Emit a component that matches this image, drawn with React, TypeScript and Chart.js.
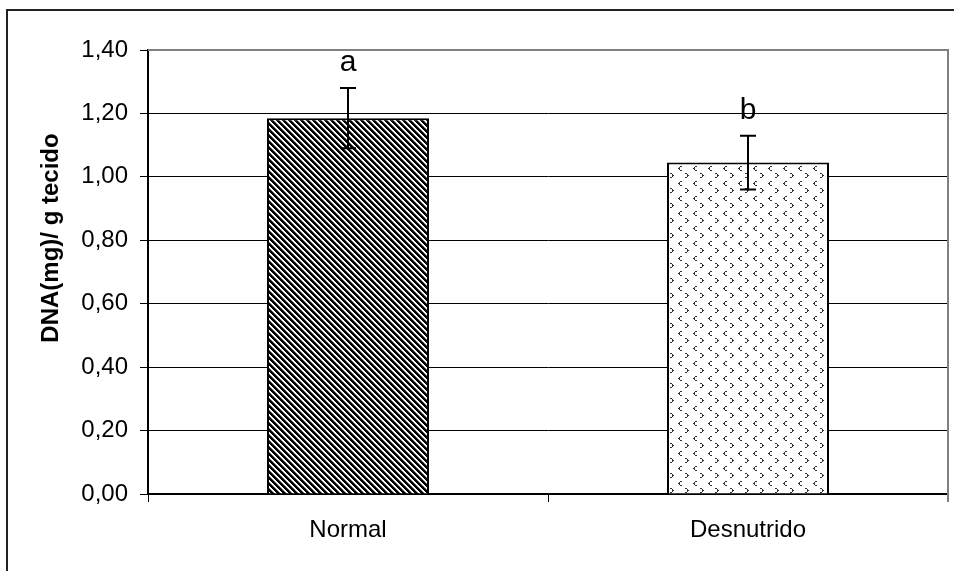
import React, { useEffect, useRef } from "react";
import { Chart, registerables } from "chart.js";

Chart.register(...registerables);

const categories = ["Normal", "Desnutrido"];
const means = [1.185, 1.045];
const errorHalf = [0.095, 0.085];
const letters = ["a", "b"];
const yMin = 0;
const yMax = 1.4;
const yStep = 0.2;
const yTitle = "DNA(mg)/ g tecido";

const FONT = "'Liberation Sans', Arial, sans-serif";

function makeStripePattern(): CanvasPattern | string {
  const c = document.createElement("canvas");
  const n = 12;
  c.width = n;
  c.height = n;
  const ctx = c.getContext("2d");
  if (!ctx) return "#555";
  const img = ctx.createImageData(n, n);
  for (let y = 0; y < n; y++) {
    for (let x = 0; x < n; x++) {
      const m = (((x - y) % 6) + 6) % 6;
      let v = 255;
      if (m === 0 || m === 1 || m === 2) v = 0;
      else if (m === 3) v = 120;
      const i = (y * n + x) * 4;
      img.data[i] = v;
      img.data[i + 1] = v;
      img.data[i + 2] = v;
      img.data[i + 3] = 255;
    }
  }
  ctx.putImageData(img, 0, 0);
  return ctx.createPattern(c, "repeat") || "#555";
}

function makeDotPattern(): CanvasPattern | string {
  const c = document.createElement("canvas");
  const w = 15;
  const h = 15;
  c.width = w;
  c.height = h;
  const ctx = c.getContext("2d");
  if (!ctx) return "#fff";
  ctx.fillStyle = "#fff";
  ctx.fillRect(0, 0, w, h);
  ctx.fillStyle = "#333";
  const lt = [
    [2, 0],
    [3, 0],
    [1, 1],
    [0, 2],
    [1, 2],
    [1, 3],
    [2, 4],
    [3, 4],
  ];
  const gt = [
    [0, 0],
    [1, 0],
    [2, 1],
    [2, 2],
    [3, 2],
    [2, 3],
    [0, 4],
    [1, 4],
  ];
  lt.forEach(([x, y]) => ctx.fillRect(3 + x, 1 + y, 1, 1));
  gt.forEach(([x, y]) => ctx.fillRect(10 + x, 8 + y, 1, 1));
  return ctx.createPattern(c, "repeat") || "#fff";
}

export default function App() {
  const ref = useRef<HTMLCanvasElement | null>(null);

  useEffect(() => {
    if (!ref.current) return;
    const stripe = makeStripePattern();
    const dots = makeDotPattern();

    const overlay = {
      id: "overlay",
      beforeDatasetsDraw(chart: any) {
        const { ctx, chartArea } = chart;
        ctx.save();
        ctx.strokeStyle = "#808080";
        ctx.lineWidth = 2;
        ctx.beginPath();
        ctx.moveTo(chartArea.left, chartArea.top);
        ctx.lineTo(chartArea.right, chartArea.top);
        ctx.lineTo(chartArea.right, chartArea.bottom + 8);
        ctx.stroke();
        ctx.restore();
      },
      afterDatasetsDraw(chart: any) {
        const { ctx } = chart;
        const y = chart.scales.y;
        const meta = chart.getDatasetMeta(0);
        ctx.save();
        ctx.strokeStyle = "#000";
        ctx.lineWidth = 2;
        meta.data.forEach((bar: any, i: number) => {
          const x = Math.round(bar.x);
          const hi = y.getPixelForValue(means[i] + errorHalf[i]);
          const lo = y.getPixelForValue(means[i] - errorHalf[i]);
          ctx.beginPath();
          ctx.moveTo(x, hi);
          ctx.lineTo(x, lo);
          ctx.moveTo(x - 8, hi);
          ctx.lineTo(x + 8, hi);
          ctx.moveTo(x - 8, lo);
          ctx.lineTo(x + 8, lo);
          ctx.stroke();
          ctx.fillStyle = "#000";
          ctx.font = `30px ${FONT}`;
          ctx.textAlign = "center";
          ctx.textBaseline = "middle";
          ctx.fillText(letters[i], x, hi - 25);
        });
        ctx.translate(51, 238);
        ctx.rotate(-Math.PI / 2);
        ctx.font = `bold 24px ${FONT}`;
        ctx.textAlign = "center";
        ctx.textBaseline = "middle";
        ctx.fillStyle = "#000";
        ctx.fillText(yTitle, 0, 0);
        ctx.restore();
      },
    };

    const chart = new Chart(ref.current, {
      type: "bar",
      data: {
        labels: categories,
        datasets: [
          {
            data: means,
            backgroundColor: [stripe, dots] as any,
            borderColor: "#000",
            borderWidth: 2,
            categoryPercentage: 1,
            barPercentage: 0.405,
          },
        ],
      },
      options: {
        animation: false,
        responsive: false,
        devicePixelRatio: 1,
        layout: { padding: { top: 50, right: 6, left: 0, bottom: 0 } },
        plugins: {
          legend: { display: false },
          tooltip: { enabled: false },
          title: { display: false },
        },
        scales: {
          x: {
            afterFit(scale: any) {
              scale.height = 77;
            },
            grid: {
              display: true,
              drawOnChartArea: false,
              drawTicks: true,
              tickLength: 8,
              offset: true,
              color: "#000",
              lineWidth: 1,
            },
            border: { color: "#000", width: 2 },
            ticks: {
              color: "#000",
              font: { family: FONT, size: 24 },
              padding: 14,
            },
          },
          y: {
            min: yMin,
            max: yMax,
            afterFit(scale: any) {
              scale.width = 148;
            },
            grid: {
              color: (c: any) =>
                c.tick && Math.abs(c.tick.value - yMax) < 1e-6 ? "#808080" : "#000",
              tickColor: "#000",
              tickLength: 8,
              lineWidth: 1,
            },
            border: { color: "#000", width: 2 },
            ticks: {
              stepSize: yStep,
              color: "#000",
              font: { family: FONT, size: 24 },
              padding: 12,
              callback: (v: any) => Number(v).toFixed(2).replace(".", ","),
            },
          },
        },
      },
      plugins: [overlay],
    });
    return () => chart.destroy();
  }, []);

  return (
    <div
      style={{
        position: "fixed",
        left: 0,
        top: 0,
        width: 954,
        height: 571,
        background: "#fff",
        overflow: "hidden",
      }}
    >
      <div
        style={{
          position: "absolute",
          left: 6,
          top: 9,
          width: 1000,
          height: 600,
          borderLeft: "2px solid #222",
          borderTop: "2px solid #222",
        }}
      />
      <canvas
        ref={ref}
        width={954}
        height={571}
        style={{ position: "absolute", left: 0, top: 0, width: 954, height: 571 }}
      />
    </div>
  );
}
